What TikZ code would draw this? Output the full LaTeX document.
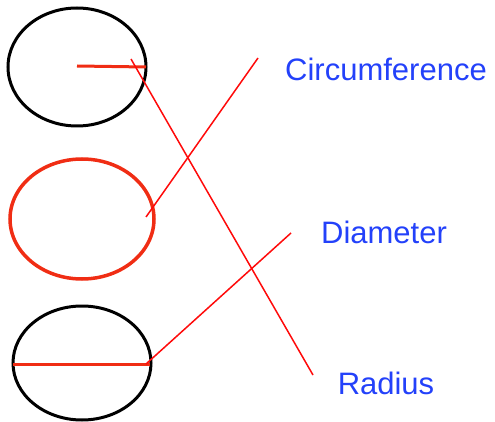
\documentclass[tikz,border=0pt]{standalone}
\usepackage{fontspec}
\setmainfont{Liberation Sans}
\definecolor{lblue}{RGB}{35,65,250}
\definecolor{lred}{RGB}{255,10,10}
\definecolor{ored}{RGB}{240,45,20}
\begin{document}
\begin{tikzpicture}[x=1pt,y=-1pt,
  thinline/.style={lred,line width=1.5pt},
  thickline/.style={ored,line width=3pt},
  lbl/.style={text=lblue,font=\fontsize{31}{31}\selectfont,inner sep=0pt}]
\useasboundingbox (0,0) rectangle (495,422);
% circles
\draw[black,line width=3pt] (77,67) ellipse [x radius=69,y radius=59];
\draw[ored,line width=3.5pt] (82,219) ellipse [x radius=72,y radius=60];
\draw[black,line width=3pt] (82,363) ellipse [x radius=69,y radius=57];
% radius & diameter segments
\coordinate (c1) at (77,66);
\coordinate (e1) at (146,67);
\draw[thickline] (c1) -- (e1);
\coordinate (d1) at (13,364);
\coordinate (d2) at (150,364);
\draw[thickline] (d1) -- (d2);
% labels
\node[lbl] (circ) at (386,69) {Circumference};
\node[lbl] (diam) at (384,232) {Diameter};
\node[lbl] (rad) at (386,383) {Radius};
% matching lines
\coordinate (a1) at (131,59);
\coordinate (a2) at (313,375);
\draw[thinline] (a1) -- (a2);
\coordinate (b1) at (258,58);
\coordinate (b2) at (146,217);
\draw[thinline] (b1) -- (b2);
\coordinate (g1) at (146,364);
\coordinate (g2) at (291,233);
\draw[thinline] (g1) -- (g2);
\end{tikzpicture}
\end{document}
